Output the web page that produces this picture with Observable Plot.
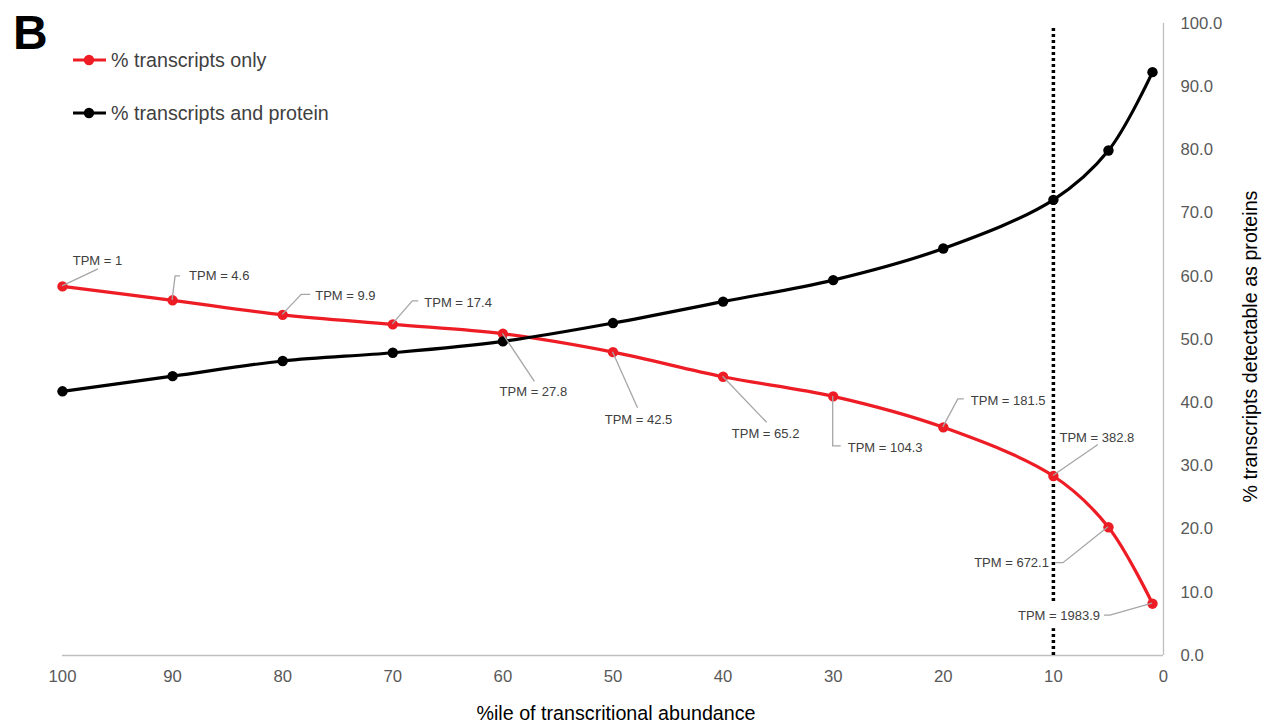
<!DOCTYPE html>
<html>
<head>
<meta charset="utf-8">
<script src="https://cdn.jsdelivr.net/npm/d3@7"></script>
<script src="https://cdn.jsdelivr.net/npm/@observablehq/plot@0.6"></script>
<style>
  html, body { margin: 0; padding: 0; background: #fff; }
  #wrap { position: relative; width: 1265px; height: 725px; }
  #overlay { position: absolute; left: 0; top: 0; pointer-events: none; }
</style>
</head>
<body>
<div id="wrap"></div>
<script>
// ---------------- data ----------------
const percentiles = [100, 90, 80, 70, 60, 50, 40, 30, 20, 10, 5, 1];
const transcriptsOnly = [58.4, 56.2, 53.9, 52.4, 50.9, 48.0, 44.1, 41.0, 36.1, 28.4, 20.3, 8.2];
const transcriptsAndProtein = [41.8, 44.2, 46.6, 47.9, 49.7, 52.6, 56.0, 59.4, 64.4, 72.1, 79.9, 92.3];
const tpmValues = [1, 4.6, 9.9, 17.4, 27.8, 42.5, 65.2, 104.3, 181.5, 382.8, 672.1, 1983.9];
const seriesNames = ["% transcripts only", "% transcripts and protein"];
const seriesColors = ["#ee1c24", "#000000"];
const xTicks = [100, 90, 80, 70, 60, 50, 40, 30, 20, 10, 0];
const yTicks = [0, 10, 20, 30, 40, 50, 60, 70, 80, 90, 100];
const cutoffPercentile = [10];
const xTitle = "%ile of transcritional abundance";
const yTitle = "% transcripts detectable as proteins";
const panelLetter = "B";

// ---------------- label layout (pixel offsets from each point) ----------------
const labelLayout = [
  {path: [[36, -17]], text: [35.5, -25], anchor: "middle"},
  {path: [[3, -24], [8, -24]], text: [17, -24], anchor: "start"},
  {path: [[19, -20], [28, -20]], text: [33, -19], anchor: "start"},
  {path: [[20, -23], [26, -23]], text: [32, -21], anchor: "start"},
  {path: [[32, 48]], text: [31, 58], anchor: "middle"},
  {path: [[25, 56]], text: [26, 68], anchor: "middle"},
  {path: [[44, 46]], text: [43, 57], anchor: "middle"},
  {path: [[0, 50], [8, 50]], text: [15, 52], anchor: "start"},
  {path: [[15, -28], [21, -28]], text: [28, -26], anchor: "start"},
  {path: [[45, -31]], text: [44, -38], anchor: "middle"},
  {path: [[-45, 36], [-53, 36]], text: [-59, 36], anchor: "end"},
  {path: [[-42, 12], [-48, 12]], text: [-52, 12], anchor: "end"}
];

const FONT = "'Liberation Sans', Arial, Helvetica, sans-serif";

// ---------------- tables ----------------
const seriesValues = [transcriptsOnly, transcriptsAndProtein];
const rows = [];
seriesNames.forEach((name, s) => {
  percentiles.forEach((p, i) => rows.push({series: name, x: p, y: seriesValues[s][i]}));
});
const redRows = percentiles.map((p, i) => ({x: p, y: transcriptsOnly[i], tpm: tpmValues[i]}));

// ---------------- custom label mark ----------------
function tpmLabels(index, scales) {
  const g = d3.create("svg:g").attr("font-family", FONT).attr("font-size", 13);
  const ctx = document.createElement("canvas").getContext("2d");
  ctx.font = "13px 'Liberation Sans', Arial, sans-serif";
  const items = redRows.map((d, i) => {
    const px = scales.x(d.x), py = scales.y(d.y);
    const L = labelLayout[i];
    const label = "TPM = " + d.tpm;
    const w = ctx.measureText(label).width;
    const tx = px + L.text[0], ty = py + L.text[1];
    const left = L.anchor === "start" ? tx : L.anchor === "end" ? tx - w : tx - w / 2;
    return {px, py, L, label, w, tx, ty, left};
  });
  items.forEach(it => {
    g.append("rect").attr("x", it.left - 2).attr("y", it.ty - 13)
      .attr("width", it.w + 4).attr("height", 26).attr("fill", "#fff");
  });
  items.forEach(it => {
    const pts = [[it.px, it.py], ...it.L.path.map(([dx, dy]) => [it.px + dx, it.py + dy])];
    g.append("path").attr("d", d3.line()(pts))
      .attr("fill", "none").attr("stroke", "#a6a6a6").attr("stroke-width", 1.3);
  });
  items.forEach(it => {
    g.append("text").attr("x", it.tx).attr("y", it.ty).attr("dy", "0.35em")
      .attr("text-anchor", it.L.anchor).attr("fill", "#404040").text(it.label);
  });
  return g.node();
}

// ---------------- plot ----------------
const chart = Plot.plot({
  width: 1265,
  height: 725,
  marginLeft: 62,
  marginRight: 102,
  marginTop: 23,
  marginBottom: 70,
  style: {fontFamily: FONT, background: "#fff", color: "#404040", fontSize: "13px"},
  x: {domain: [100, 0]},
  y: {domain: [0, 100]},
  color: {domain: seriesNames, range: seriesColors},
  marks: [
    Plot.ruleY([0], {stroke: "#bfbfbf", strokeWidth: 1.3}),
    Plot.ruleX([0], {stroke: "#bfbfbf", strokeWidth: 1.3}),
    Plot.axisX({ticks: xTicks, tickSize: 0, tickPadding: 15, tickFormat: d => String(d),
      fontSize: 16.7, color: "#595959", label: null}),
    Plot.axisY({anchor: "right", ticks: yTicks, tickSize: 0, tickPadding: 17,
      tickFormat: d3.format(".1f"), fontSize: 16.7, color: "#595959", label: null}),
    Plot.text([xTitle], {text: d => d, frameAnchor: "bottom", textAnchor: "middle", dy: 64, dx: 3,
      fontSize: 19.7, fill: "#000"}),
    Plot.text([yTitle], {text: d => d, frameAnchor: "right", textAnchor: "middle", dx: 87, dy: 7, rotate: -90,
      fontSize: 19.7, fill: "#000"}),
    Plot.ruleX(cutoffPercentile, {y1: 0, y2: 99.2, stroke: "#000", strokeWidth: 3.5, strokeDasharray: "3,3"}),
    Plot.line(rows, {x: "x", y: "y", z: "series", stroke: "series", strokeWidth: 3.2, curve: "catmull-rom"}),
    Plot.dot(rows, {x: "x", y: "y", fill: "series", r: 5.2}),
    tpmLabels
  ]
});

const wrap = document.getElementById("wrap");
wrap.appendChild(chart);

// ---------------- overlay: panel letter + legend ----------------
const ov = d3.create("svg").attr("id", "overlay").attr("width", 400).attr("height", 140)
  .attr("font-family", FONT);
ov.append("text").attr("x", 13).attr("y", 49).attr("font-size", 48).attr("font-weight", "bold")
  .attr("fill", "#000").text(panelLetter);
const legendRows = [60, 113];
seriesNames.forEach((name, i) => {
  const y = legendRows[i];
  ov.append("line").attr("x1", 73).attr("x2", 106).attr("y1", y).attr("y2", y)
    .attr("stroke", seriesColors[i]).attr("stroke-width", 3.2);
  ov.append("circle").attr("cx", 89).attr("cy", y).attr("r", 5.2).attr("fill", seriesColors[i]);
  ov.append("text").attr("x", 111).attr("y", y).attr("dy", "0.35em").attr("font-size", 19.7)
    .attr("fill", "#404040").text(name);
});
wrap.appendChild(ov.node());
</script>
</body>
</html>
